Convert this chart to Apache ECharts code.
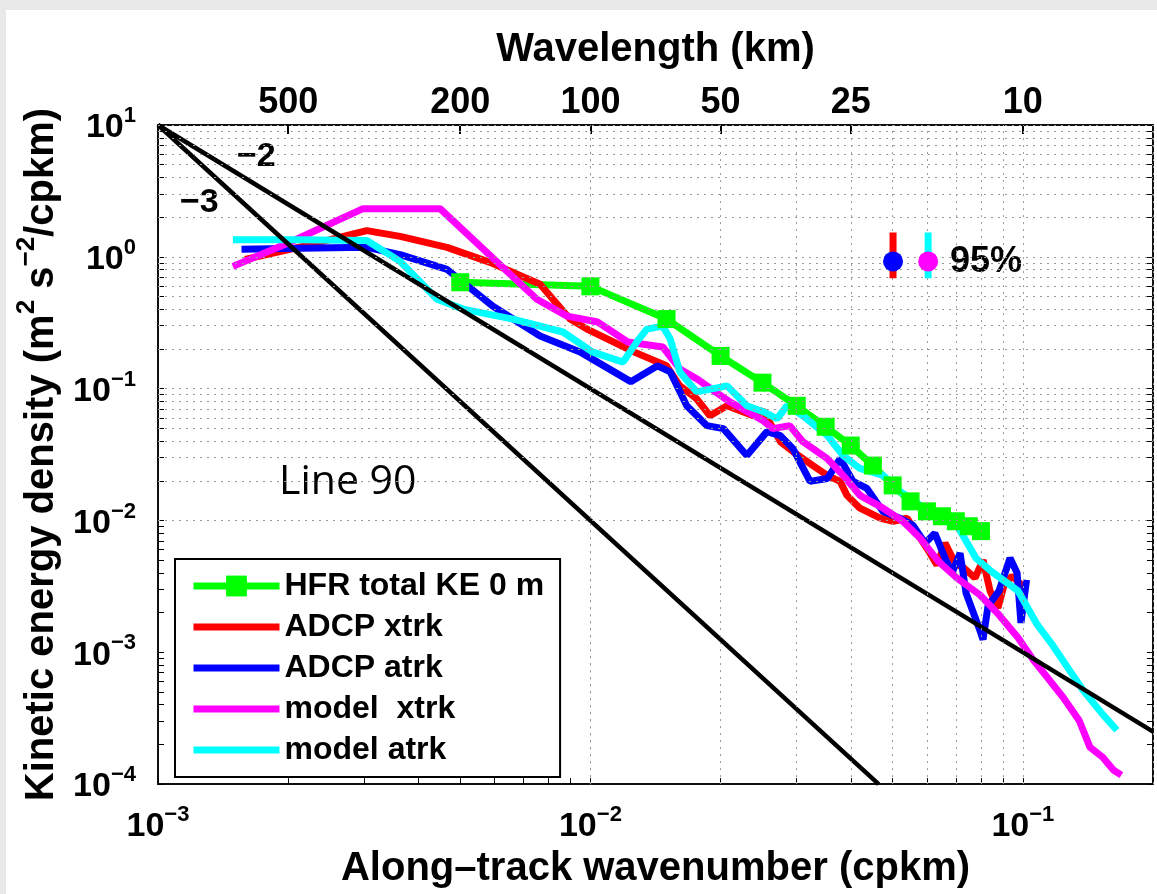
<!DOCTYPE html>
<html>
<head>
<meta charset="utf-8">
<script src="https://cdn.jsdelivr.net/npm/echarts@6/dist/echarts.min.js"></script>
<style>
  html, body { margin: 0; padding: 0; background: #e8e8e8; }
  #chart { position: absolute; left: 6px; top: 10px; width: 1151px; height: 884px; background: #fff; }
</style>
</head>
<body>
<div id="chart"></div>
<script>
// [wavenumber (cpkm), KE density] pairs
const hfrTotal = [
  [0.005, 0.641], [0.010, 0.597], [0.015, 0.337], [0.020, 0.177], [0.025, 0.111],
  [0.030, 0.0741], [0.035, 0.0514], [0.040, 0.0370], [0.045, 0.0261], [0.050, 0.01845],
  [0.055, 0.01396], [0.060, 0.01173], [0.065, 0.01076], [0.070, 0.00986], [0.075, 0.00904],
  [0.080, 0.0083]
];
const adcpXtrk = [
  [0.00159, 0.956], [0.00202, 1.14], [0.00250, 1.35], [0.00304, 1.58], [0.00363, 1.43],
  [0.00466, 1.18], [0.00586, 0.907], [0.00765, 0.619], [0.00819, 0.477], [0.00897, 0.337],
  [0.00982, 0.283], [0.0113, 0.226], [0.0126, 0.190], [0.0150, 0.149], [0.0161, 0.105],
  [0.0176, 0.0838], [0.0189, 0.0623], [0.0207, 0.0742], [0.0238, 0.0623], [0.0251, 0.0680],
  [0.0275, 0.0396], [0.0294, 0.0333], [0.0327, 0.0261], [0.0353, 0.0220], [0.0378, 0.0198],
  [0.0392, 0.0155], [0.0420, 0.0124], [0.0468, 0.0104], [0.0501, 0.00986], [0.0540, 0.0104],
  [0.0579, 0.00734], [0.0610, 0.00565], [0.0633, 0.00459], [0.0661, 0.00673], [0.0697, 0.00475],
  [0.0731, 0.00436], [0.0775, 0.00366], [0.0809, 0.00500], [0.0840, 0.00292], [0.0876, 0.00217],
  [0.0905, 0.00324], [0.0944, 0.00379], [0.101, 0.00308]
];
const adcpAtrk = [
  [0.00156, 1.14], [0.00213, 1.16], [0.00304, 1.18], [0.00363, 1.04], [0.00466, 0.803],
  [0.00595, 0.422], [0.00765, 0.251], [0.00946, 0.190], [0.0124, 0.113], [0.0143, 0.149],
  [0.0153, 0.134], [0.0167, 0.0742], [0.0186, 0.0524], [0.0203, 0.0497], [0.0230, 0.0311],
  [0.0256, 0.0472], [0.0275, 0.0440], [0.0294, 0.0351], [0.0322, 0.0198], [0.0353, 0.0208],
  [0.0378, 0.0295], [0.0405, 0.0198], [0.0436, 0.0175], [0.0475, 0.0117], [0.0520, 0.0104],
  [0.0557, 0.00920], [0.0594, 0.00673], [0.0626, 0.00800], [0.0661, 0.00518], [0.0686, 0.00399],
  [0.0716, 0.00565], [0.0739, 0.00282], [0.0792, 0.00153], [0.0809, 0.00125], [0.0831, 0.00225],
  [0.0881, 0.00292], [0.0934, 0.00518], [0.0970, 0.00399], [0.0990, 0.00167], [0.102, 0.00354]
];
const modelXtrk = [
  [0.00149, 0.846], [0.00202, 1.29], [0.00298, 2.32], [0.00449, 2.32], [0.00752, 0.477],
  [0.00883, 0.355], [0.0104, 0.320], [0.0122, 0.226], [0.0147, 0.207], [0.0161, 0.141],
  [0.0176, 0.119], [0.0210, 0.0795], [0.0251, 0.0571], [0.0264, 0.0497], [0.0289, 0.0524],
  [0.0310, 0.0396], [0.0353, 0.0295], [0.0384, 0.0220], [0.0420, 0.0155], [0.0475, 0.0124],
  [0.0528, 0.00986], [0.0579, 0.00734], [0.0637, 0.00492], [0.0704, 0.00366], [0.0796, 0.00272],
  [0.0881, 0.00192], [0.0975, 0.00129], [0.106, 0.000864], [0.114, 0.000643], [0.124, 0.000454],
  [0.135, 0.000304], [0.143, 0.000190], [0.153, 0.000160], [0.162, 0.000128], [0.169, 0.000117]
];
const modelAtrk = [
  [0.00149, 1.35], [0.00213, 1.35], [0.00304, 1.33], [0.00363, 0.923], [0.00442, 0.477],
  [0.00508, 0.401], [0.00662, 0.337], [0.00864, 0.269], [0.0101, 0.190], [0.0119, 0.159],
  [0.0128, 0.226], [0.0135, 0.283], [0.0147, 0.298], [0.0153, 0.238], [0.0161, 0.134],
  [0.0176, 0.0946], [0.0207, 0.105], [0.0230, 0.0742], [0.0251, 0.0668], [0.0270, 0.0591],
  [0.0285, 0.0742], [0.0310, 0.0623], [0.0353, 0.0440], [0.0384, 0.0311], [0.0420, 0.0248],
  [0.0475, 0.0220], [0.0520, 0.0166], [0.0579, 0.0130], [0.0668, 0.0104], [0.0704, 0.00920],
  [0.0779, 0.00518], [0.0844, 0.00413], [0.0975, 0.00292], [0.108, 0.00162], [0.117, 0.00114],
  [0.127, 0.000765], [0.138, 0.000513], [0.153, 0.000338], [0.165, 0.000256]
];

// reference slopes k^-2 and k^-3 (end points)
const slopeMinus2 = [[0.001, 10], [0.2, 2.5e-4]];
const slopeMinus3 = [[0.001, 10], [0.0464, 1e-4]];

// 95% confidence bars
const ciAdcpBar = [[0.0501, 0.687], [0.0501, 1.53]];
const ciModelBar = [[0.0604, 0.687], [0.0604, 1.53]];
const ciAdcpDot = [[0.0501, 0.923]];
const ciModelDot = [[0.0604, 0.923]];

// tick labels
const xTicks = [0.001, 0.01, 0.1];
const yTicks = [1e-4, 1e-3, 1e-2, 1e-1, 1, 10];
const wavelengthKm = [500, 200, 100, 50, 25, 10];

const FONT = 'Liberation Sans, Arial, sans-serif';
const names = ['HFR total KE 0 m', 'ADCP xtrk', 'ADCP atrk', 'model  xtrk', 'model atrk'];

// minor positions 1..9 x 10^n for the dotted grid
function minorPositions(lo, hi) {
  const out = [];
  for (let n = -6; n <= 2; n++) {
    for (let m = 1; m <= 9; m++) {
      const v = Number((m * Math.pow(10, n)).toPrecision(3));
      if (v >= lo * 0.999 && v <= hi * 1.001) out.push(v);
    }
  }
  return out;
}
const gridK = minorPositions(0.001, 0.2);
const gridE = minorPositions(1e-4, 10);

function powerLabel(v) {
  const e = Math.round(Math.log10(v));
  return '{b|10}{s|' + (e < 0 ? '\u2212' + (-e) : e) + '}';
}
const powRich = {
  b: { fontSize: 34, fontWeight: 'bold', fontFamily: FONT, color: '#000', lineHeight: 40, verticalAlign: 'bottom' },
  s: { fontSize: 22, fontWeight: 'bold', fontFamily: FONT, color: '#000', lineHeight: 22, verticalAlign: 'top' }
};
const axisLine = { show: true, lineStyle: { color: '#000', width: 1.5 } };
const nameStyle = { fontSize: 40, fontWeight: 'bold', fontFamily: FONT, color: '#000' };
const barIcon = 'path://M0 0H86V7H0Z';

function curve(name, data, color, extra) {
  return Object.assign({
    name: name, type: 'line', data: data, symbol: 'none', z: 3,
    lineStyle: { color: color, width: 7 }, itemStyle: { color: color }
  }, extra || {});
}

const chart = echarts.init(document.getElementById('chart'));

chart.setOption({
  animation: false,
  backgroundColor: '#fff',
  grid: { left: 152, right: 4, top: 115, bottom: 107, show: true, borderColor: '#000', borderWidth: 1.5 },
  xAxis: [{
    type: 'log', logBase: 10, min: 0.001, max: 0.2, position: 'bottom',
    axisLine: axisLine,
    axisTick: { inside: true, length: 6, customValues: gridK, lineStyle: { color: '#000' } },
    axisLabel: { customValues: xTicks, formatter: powerLabel, rich: powRich, margin: 20 },
    splitLine: { show: false },
    name: 'Along\u2013track wavenumber (cpkm)', nameLocation: 'middle', nameGap: 60, nameTextStyle: nameStyle
  }, {
    type: 'log', logBase: 10, min: 0.001, max: 0.2, position: 'top',
    axisLine: axisLine,
    axisTick: { inside: true, length: 9, customValues: wavelengthKm.map(w => 1 / w), lineStyle: { color: '#000', width: 2 } },
    axisLabel: {
      customValues: wavelengthKm.map(w => 1 / w), margin: 4,
      formatter: v => String(Math.round(1 / v)),
      fontSize: 36, fontWeight: 'bold', fontFamily: FONT, color: '#000'
    },
    splitLine: { show: false },
    name: 'Wavelength (km)', nameLocation: 'middle', nameGap: 55, nameTextStyle: nameStyle
  }],
  yAxis: [{
    type: 'log', logBase: 10, min: 1e-4, max: 10, position: 'left',
    axisLine: axisLine,
    axisTick: { inside: true, length: 6, customValues: gridE, lineStyle: { color: '#000' } },
    axisLabel: { customValues: yTicks, formatter: powerLabel, rich: powRich, margin: 22 },
    splitLine: { show: false },
    name: '{t|Kinetic energy density (m}{u|2}{t| s}{u|\u22122}{t|/cpkm)}',
    nameLocation: 'middle', nameRotate: 90, nameGap: 90,
    nameTextStyle: {
      rich: {
        t: { fontSize: 40, fontWeight: 'bold', fontFamily: FONT, color: '#000', lineHeight: 48, verticalAlign: 'bottom' },
        u: { fontSize: 26, fontWeight: 'bold', fontFamily: FONT, color: '#000', lineHeight: 26, verticalAlign: 'top' }
      }
    }
  }, {
    type: 'log', logBase: 10, min: 1e-4, max: 10, position: 'right',
    axisLine: axisLine,
    axisTick: { inside: true, length: 6, customValues: gridE, lineStyle: { color: '#000' } },
    axisLabel: { show: false },
    splitLine: { show: false }
  }],
  legend: {
    orient: 'vertical', left: 169, top: 549,
    data: [
      { name: names[0] },
      { name: names[1], icon: barIcon },
      { name: names[2], icon: barIcon },
      { name: names[3], icon: barIcon },
      { name: names[4], icon: barIcon }
    ],
    itemWidth: 86, itemHeight: 26, itemGap: 9,
    padding: [11, 16, 11, 15],
    backgroundColor: '#fff', borderColor: '#000', borderWidth: 2,
    lineStyle: { width: 7 },
    selectedMode: false,
    textStyle: { fontSize: 32, fontWeight: 'bold', fontFamily: FONT, color: '#000', lineHeight: 30 }
  },
  graphic: [
    { type: 'text', left: 231, top: 130, style: { text: '\u22122', font: 'bold 34px ' + FONT, fill: '#000' } },
    { type: 'text', left: 174, top: 176, style: { text: '\u22123', font: 'bold 34px ' + FONT, fill: '#000' } },
    { type: 'text', left: 273, top: 452, style: { text: 'Line 90', font: '41px Open Sans', fill: '#000' } },
    { type: 'text', left: 944, top: 234, style: { text: '95%', font: 'bold 36px ' + FONT, fill: '#000' } }
  ],
  series: [
    {
      type: 'line', data: [], silent: true, z: 1,
      markLine: {
        silent: true, symbol: ['none', 'none'], label: { show: false }, animation: false,
        lineStyle: { color: '#9a9a9a', type: [2, 5], width: 1 },
        emphasis: { disabled: true },
        data: gridK.map(v => ({ xAxis: v })).concat(gridE.map(v => ({ yAxis: v })))
      }
    },
    curve(names[0], hfrTotal, '#00ff00', { symbol: 'rect', symbolSize: 18, showSymbol: true }),
    curve(names[1], adcpXtrk, '#ff0000'),
    curve(names[2], adcpAtrk, '#0000ff'),
    curve(names[3], modelXtrk, '#ff00ff'),
    curve(names[4], modelAtrk, '#00ffff'),
    curve('slope -2', slopeMinus2, '#000', { lineStyle: { color: '#000', width: 4.5 }, z: 4 }),
    curve('slope -3', slopeMinus3, '#000', { lineStyle: { color: '#000', width: 4.5 }, z: 4 }),
    curve('ci adcp', ciAdcpBar, '#ff0000', { lineStyle: { color: '#ff0000', width: 7 }, z: 5 }),
    curve('ci model', ciModelBar, '#00ffff', { lineStyle: { color: '#00ffff', width: 7 }, z: 5 }),
    { name: 'ci adcp dot', type: 'scatter', data: ciAdcpDot, symbolSize: 20, itemStyle: { color: '#0000ff', opacity: 1 }, z: 6 },
    { name: 'ci model dot', type: 'scatter', data: ciModelDot, symbolSize: 20, itemStyle: { color: '#ff00ff', opacity: 1 }, z: 6 }
  ]
});
</script>
</body>
</html>
